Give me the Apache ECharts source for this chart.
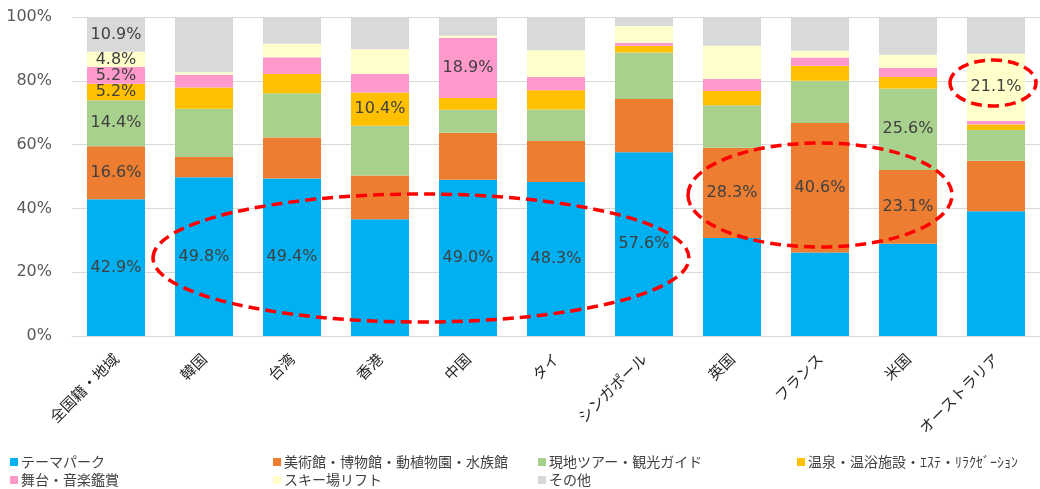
<!DOCTYPE html>
<html>
<head>
<meta charset="utf-8">
<script src="https://cdn.jsdelivr.net/npm/echarts@6/dist/echarts.min.js"></script>
<style>
  html, body { margin: 0; padding: 0; background: #fff; }
  #chart { width: 1040px; height: 489px; }
</style>
</head>
<body>
<div id="chart"></div>
<script>
// Categories (nationality / region)
const categories = ['全国籍・地域', '韓国', '台湾', '香港', '中国', 'タイ', 'シンガポール', '英国', 'フランス', '米国', 'オーストラリア'];

// Series names
const seriesNames = ['テーマパーク', '美術館・博物館・動植物園・水族館', '現地ツアー・観光ガイド', '温泉・温浴施設・ｴｽﾃ・ﾘﾗｸｾﾞｰｼｮﾝ', '舞台・音楽鑑賞', 'スキー場リフト', 'その他'];

// Shares (%) per category
const themePark = [42.9, 49.8, 49.4, 36.6, 49.0, 48.3, 57.6, 30.7, 26.2, 28.9, 39.1];
const museum    = [16.6,  6.3, 12.8, 13.7, 14.7, 12.8, 16.7, 28.3, 40.6, 23.1, 15.8];
const tour      = [14.4, 15.1, 13.9, 15.6,  7.2,  9.9, 14.6, 13.3, 13.2, 25.6,  9.7];
const onsen     = [ 5.2,  6.7,  6.0, 10.4,  3.7,  6.0,  2.1,  4.5,  4.7,  3.6,  1.7];
const stage     = [ 5.2,  4.0,  5.3,  5.8, 18.9,  4.2,  0.9,  3.8,  2.6,  2.9,  1.1];
const ski       = [ 4.8,  0.8,  4.2,  7.8,  0.6,  8.4,  5.3, 10.4,  2.1,  4.1, 21.1];
const other     = [10.9, 17.3,  8.4, 10.1,  5.9, 10.4,  2.8,  9.0, 10.6, 11.8, 11.5];

// Which category indexes carry a value label, per series
const labelled = [
  [0, 1, 2, 4, 5, 6],
  [0, 7, 8, 9],
  [0, 9],
  [0, 3],
  [0, 4],
  [0, 10],
  [0]
];

const yTicks = [0, 20, 40, 60, 80, 100];

const values = [themePark, museum, tour, onsen, stage, ski, other];
const colors = ['#00B0F0', '#ED7D31', '#A9D18E', '#FFC000', '#FF99CC', '#FFFFCC', '#D9D9D9'];

const series = seriesNames.map((name, s) => ({
  name: name,
  type: 'bar',
  stack: 'total',
  barWidth: 58,
  itemStyle: { color: colors[s] },
  emphasis: { disabled: true },
  label: {
    position: 'inside',
    fontFamily: 'DejaVu Sans',
    fontSize: 16,
    color: '#404040',
    formatter: p => p.value.toFixed(1) + '%'
  },
  data: values[s].map((v, i) => ({
    value: v,
    label: { show: labelled[s].indexOf(i) >= 0 }
  }))
}));

// Legend laid out as a 4-column grid, one legend per entry
const legendSlots = [[10, 455], [273, 455], [538, 455], [797, 455], [10, 473], [273, 473], [538, 473]];
const legends = seriesNames.map((name, s) => ({
  data: [name],
  left: legendSlots[s][0],
  top: legendSlots[s][1],
  icon: 'rect',
  itemWidth: 8,
  itemHeight: 8,
  itemGap: 4,
  padding: 0,
  selectedMode: false,
  textStyle: { fontFamily: 'Noto Sans CJK JP', fontSize: 14, color: '#404040', padding: [0, 0, 0, -2] }
}));

// Dashed highlight ellipses
const ellipse = (cx, cy, rx, ry) => ({
  type: 'ellipse',
  shape: { cx: cx, cy: cy, rx: rx, ry: ry },
  style: { fill: null, stroke: '#FF0000', lineWidth: 3.5, lineDash: [11, 6] },
  z: 100
});

const chart = echarts.init(document.getElementById('chart'), null, { renderer: 'canvas' });
chart.setOption({
  animation: false,
  backgroundColor: '#ffffff',
  grid: { left: 72, right: 0, top: 17, bottom: 153 },
  legend: legends,
  xAxis: {
    type: 'category',
    data: categories,
    axisTick: { show: false },
    axisLine: { lineStyle: { color: '#D9D9D9', width: 1 } },
    axisLabel: {
      rotate: 45,
      margin: 20,
      interval: 0,
      fontFamily: 'Noto Sans CJK JP',
      fontSize: 15,
      color: '#262626'
    }
  },
  yAxis: {
    type: 'value',
    min: yTicks[0],
    max: yTicks[yTicks.length - 1],
    interval: 20,
    axisLine: { show: false },
    axisTick: { show: false },
    splitLine: { lineStyle: { color: '#D9D9D9', width: 1 } },
    axisLabel: {
      margin: 20,
      fontFamily: 'DejaVu Sans',
      fontSize: 16,
      color: '#595959',
      formatter: v => v + '%'
    }
  },
  series: series,
  graphic: [
    ellipse(421, 258, 268, 64),
    ellipse(820, 195, 132, 52),
    ellipse(993, 83, 43, 23)
  ]
});
</script>
</body>
</html>
